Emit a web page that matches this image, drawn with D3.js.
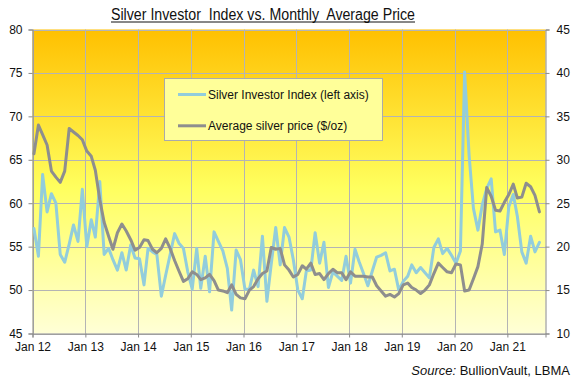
<!DOCTYPE html>
<html><head><meta charset="utf-8">
<script src="https://cdn.jsdelivr.net/npm/d3@7"></script>
<style>
html,body{margin:0;padding:0;background:#fff;}
svg{display:block;font-family:"Liberation Sans",Arial,sans-serif;}
</style></head>
<body><svg id="c" width="575" height="381"></svg>
<script>
// ---- data ----
const startYear = 2012;
const siiValues = [
 57.1,53.9,63.3,59.0,61.1,60.0,54.1,53.2,55.3,57.5,55.6,61.6,
 55.0,58.1,56.1,62.5,54.1,54.8,53.5,52.3,54.3,52.3,55.2,53.7,
 53.6,50.6,54.8,54.4,54.1,49.3,51.7,54.1,56.5,55.4,54.8,52.1,
 50.1,54.8,50.2,53.9,49.8,56.7,55.6,54.5,52.5,47.7,54.6,53.5,
 50.1,50.1,52.3,50.4,56.2,48.7,53.0,57.2,52.9,57.2,56.1,53.5,
 50.0,49.0,52.2,52.3,56.6,53.1,55.5,50.3,52.1,51.6,51.1,53.9,
 50.8,54.7,53.3,51.9,50.5,52.2,53.8,54.0,54.3,52.2,52.4,50.0,
 51.0,51.6,52.9,52.0,52.6,52.0,51.4,54.9,55.9,54.2,54.8,54.0,
 53.1,54.5,75.1,65.5,59.4,56.9,59.8,61.7,62.8,56.7,56.9,54.1,
 59.6,61.0,58.5,54.4,53.1,56.2,54.4,55.5
];
const priceValues = [
 30.7,34.0,32.9,31.7,28.7,28.0,27.4,28.7,33.6,33.2,32.8,32.3,
 31.0,30.4,28.8,25.4,22.8,21.2,19.7,21.6,22.6,21.8,20.8,19.6,
 19.9,20.8,20.7,19.7,19.3,19.8,20.9,19.8,18.4,17.2,16.0,16.3,
 17.1,16.8,16.2,16.4,16.8,16.1,15.0,14.9,14.7,15.6,14.5,14.1,
 14.0,15.0,15.4,16.3,16.9,17.2,19.9,19.7,19.8,17.9,17.3,16.5,
 16.8,17.8,17.4,18.1,16.8,16.9,16.2,16.9,17.4,17.0,17.0,16.2,
 17.1,16.6,16.6,16.6,16.5,16.5,15.5,14.9,14.3,14.5,14.2,14.6,
 15.6,15.8,15.3,15.0,14.6,15.0,15.6,16.9,18.1,17.6,17.1,17.0,
 18.0,17.9,14.9,15.0,16.3,17.7,20.3,26.8,25.8,24.2,24.1,25.1,
 26.0,27.2,25.6,25.7,27.3,26.9,25.9,24.0
];
const leftTicks = [45,50,55,60,65,70,75,80];
const rightTicks = [10,15,20,25,30,35,40,45];
const xTickYears = d3.range(2012, 2022);
const seriesNames = ["Silver Investor Index (left axis)", "Average silver price ($/oz)"];
const titleText = "Silver Investor\u00a0 Index vs. Monthly\u00a0 Average Price";

// ---- layout ----
const L = 32.5, R = 545.5, T = 29.5, B = 333.5;
const svg = d3.select("#c");
const dates = siiValues.map((_, i) => new Date(startYear, i, 11));

const x = d3.scaleTime().domain([new Date(2012,0,1), new Date(2021,8,22)]).range([L, R]);
const yL = d3.scaleLinear().domain([45,80]).range([B, T]);
const yR = d3.scaleLinear().domain([10,45]).range([B, T]);

// gradient
const defs = svg.append("defs");
const g = defs.append("linearGradient").attr("id","bg").attr("x1",0).attr("y1",0).attr("x2",0).attr("y2",1);
g.append("stop").attr("offset","0%").attr("stop-color","#FFC000");
g.append("stop").attr("offset","52%").attr("stop-color","#FFFF5E");
g.append("stop").attr("offset","100%").attr("stop-color","#FFFFD6");
svg.append("rect").attr("x",L).attr("y",T).attr("width",R-L).attr("height",B-T).attr("fill","url(#bg)");

// gridlines
const gridColor = "#B4B4B4";
svg.append("g").selectAll("line").data(leftTicks).join("line")
  .attr("x1",L).attr("x2",R).attr("y1",d=>Math.round(yL(d))+0.5).attr("y2",d=>Math.round(yL(d))+0.5)
  .attr("stroke",gridColor).attr("stroke-width",1);
const yearDates = xTickYears.map(yr => new Date(yr,0,1));
svg.append("g").selectAll("line").data(yearDates).join("line")
  .attr("x1",d=>Math.round(x(d))+0.5).attr("x2",d=>Math.round(x(d))+0.5).attr("y1",T).attr("y2",B)
  .attr("stroke",gridColor).attr("stroke-width",1);

// axes
const axisColor = "#8A8A8A";
const axL = svg.append("g").attr("transform",`translate(${L},0)`)
  .call(d3.axisLeft(yL).tickValues(leftTicks).tickSize(4).tickPadding(6).tickFormat(d3.format("d")));
const axR = svg.append("g").attr("transform",`translate(${R},0)`)
  .call(d3.axisRight(yR).tickValues(rightTicks).tickSize(4).tickPadding(7).tickFormat(d3.format("d")));
const axB = svg.append("g").attr("transform",`translate(0,${B})`)
  .call(d3.axisBottom(x).tickValues(yearDates).tickSize(4).tickPadding(5).tickFormat(d3.timeFormat("Jan %y")));
[axL,axR,axB].forEach(a=>{
  a.select(".domain").attr("stroke",axisColor);
  a.selectAll(".tick line").attr("stroke",axisColor);
  a.selectAll("text").attr("font-size","12px").attr("fill","#111").attr("font-family","'Liberation Sans',Arial,sans-serif");
});

// lines
const lineL = d3.line().x((d,i)=>x(dates[i])).y(d=>yL(d)).curve(d3.curveLinear);
const lineR = d3.line().x((d,i)=>x(dates[i])).y(d=>yR(d)).curve(d3.curveLinear);
const blue = "#92CDDC", grey = "#8E8E8E";
svg.append("path").datum(siiValues).attr("d",lineL).attr("fill","none")
  .attr("stroke",blue).attr("stroke-width",3).attr("stroke-linejoin","round").attr("stroke-linecap","round");
svg.append("path").datum(priceValues).attr("d",lineR).attr("fill","none")
  .attr("stroke",grey).attr("stroke-width",3).attr("stroke-linejoin","round").attr("stroke-linecap","round");

// legend
const lg = svg.append("g");
lg.append("rect").attr("x",164.5).attr("y",78.5).attr("width",218).attr("height",62)
  .attr("fill","#FFFF99").attr("stroke","#AAAAAA").attr("stroke-width",1);
const legendColors = [blue, grey];
seriesNames.forEach((name,i)=>{
  const yy = 94.5 + i*31.3;
  lg.append("line").attr("x1",178).attr("x2",206).attr("y1",yy).attr("y2",yy)
    .attr("stroke",legendColors[i]).attr("stroke-width",3);
  lg.append("text").attr("x",208).attr("y",yy).attr("dy","0.35em")
    .attr("font-size","12px").attr("fill","#111").text(name);
});

// title
svg.append("text").attr("x",111).attr("y",19.5).attr("font-size","16px").attr("fill","#111")
  .attr("textLength",304).attr("lengthAdjust","spacingAndGlyphs").text(titleText);
svg.append("line").attr("x1",111).attr("x2",415).attr("y1",22).attr("y2",22)
  .attr("stroke","#111").attr("stroke-width",1);

// source
const src = svg.append("text").attr("x",570).attr("y",375).attr("text-anchor","end")
  .attr("font-size","13px").attr("fill","#111");
src.append("tspan").attr("font-style","italic").text("Source:");
src.append("tspan").text(" BullionVault, LBMA");
</script></body></html>
